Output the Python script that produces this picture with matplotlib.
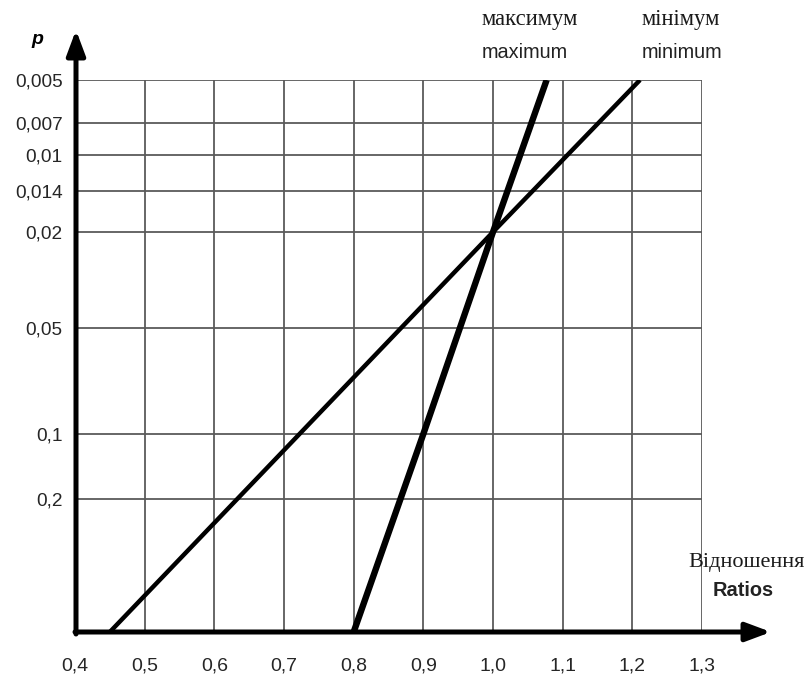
import numpy as np
import matplotlib
matplotlib.use("Agg")
import matplotlib.pyplot as plt

# ---- data ----
x_ticks = [0.4, 0.5, 0.6, 0.7, 0.8, 0.9, 1.0, 1.1, 1.2, 1.3]
x_labels = ["0,4", "0,5", "0,6", "0,7", "0,8", "0,9", "1,0", "1,1", "1,2", "1,3"]
p_ticks = [0.005, 0.007, 0.01, 0.014, 0.02, 0.05, 0.1, 0.2]
p_labels = ["0,005", "0,007", "0,01", "0,014", "0,02", "0,05", "0,1", "0,2"]

# nonuniform probability scale of the chart (p value -> scale position)
scale_p = [0.5, 0.2, 0.1, 0.05, 0.02, 0.014, 0.01, 0.007, 0.005]
scale_pos = [0, 133, 198, 304, 400, 441, 477, 509, 552]

max_x = [0.8, 0.9, 1.0, 1.077]
max_p = [0.5, 0.1, 0.02, 0.005]
min_x = [0.45, 1.0, 1.211]
min_p = [0.5, 0.02, 0.005]

# ---- scale ----
_lp = -np.log10(np.array(scale_p))
_ps = np.array(scale_pos, dtype=float)

def fwd(p):
    p = np.clip(np.asarray(p, dtype=float), 1e-6, None)
    return np.interp(-np.log10(p), _lp, _ps)

def inv(v):
    return 10 ** (-np.interp(np.asarray(v, dtype=float), _ps, _lp))

W, H = 811, 680
fig = plt.figure(figsize=(W / 100, H / 100), dpi=100)
x0, x1 = 75, 702
yb, yt = 632, 80
ax = fig.add_axes([x0 / W, (H - yb) / H, (x1 - x0) / W, (yb - yt) / H])
ax.set_yscale("function", functions=(fwd, inv))
ax.set_xlim(0.4, 1.3)
ax.set_ylim(0.005, 0.5)

for s in ax.spines.values():
    s.set_visible(False)

ax.set_xticks(x_ticks)
ax.set_xticklabels(x_labels, family="Liberation Sans", fontsize=14)
ax.set_yticks(p_ticks)
ax.set_yticklabels(p_labels, family="Liberation Sans", fontsize=13.7)
ax.yaxis.set_minor_locator(matplotlib.ticker.NullLocator())
ax.tick_params(axis="x", length=0, pad=18.5, colors="#262626")
ax.tick_params(axis="y", length=0, pad=9, colors="#262626")
ax.grid(True, color="#5a5a5a", lw=1.3)
ax.set_axisbelow(True)

ax.plot(max_x, max_p, color="black", lw=4.6, solid_capstyle="butt", zorder=3)
ax.plot(min_x, min_p, color="black", lw=3.2, solid_capstyle="butt", zorder=3)

# axes with arrows
def px2ax(px, py):
    return ((px - x0) / (x1 - x0), (yb - py) / (yb - yt))

ax.annotate("", xy=px2ax(76, 30), xytext=px2ax(76, 634), xycoords="axes fraction",
            textcoords="axes fraction",
            arrowprops=dict(arrowstyle="-|>,head_length=0.75,head_width=0.28",
                            lw=3.6, color="black", mutation_scale=20, shrinkA=0, shrinkB=0),
            annotation_clip=False, zorder=5)
ax.annotate("", xy=px2ax(771, 632), xytext=px2ax(75, 632), xycoords="axes fraction",
            textcoords="axes fraction",
            arrowprops=dict(arrowstyle="-|>,head_length=0.75,head_width=0.28",
                            lw=3.6, color="black", mutation_scale=20, shrinkA=0, shrinkB=0),
            annotation_clip=False, zorder=5)

def ftext(px, py, s, **kw):
    fig.text(px / W, 1 - py / H, s, ha="center", va="center", **kw)

ftext(37, 40, "p", family="Liberation Sans", fontsize=14, fontweight="bold", style="italic")
ftext(530, 20, "максимум", family="Liberation Serif", fontsize=16.3, color="#1a1a1a")
ftext(525, 53, "maximum", family="Liberation Sans", fontsize=14.3, color="#222222")
ftext(681, 20, "мінімум", family="Liberation Serif", fontsize=16.3, color="#1a1a1a")
ftext(682, 53, "minimum", family="Liberation Sans", fontsize=14.3, color="#222222")
ftext(747, 562, "Відношення", family="Liberation Serif", fontsize=16, color="#1a1a1a")
ftext(743, 590, "Ratios", family="Liberation Sans", fontsize=14.4, fontweight="bold", color="#222222")

fig.savefig("out.png", dpi=100)
